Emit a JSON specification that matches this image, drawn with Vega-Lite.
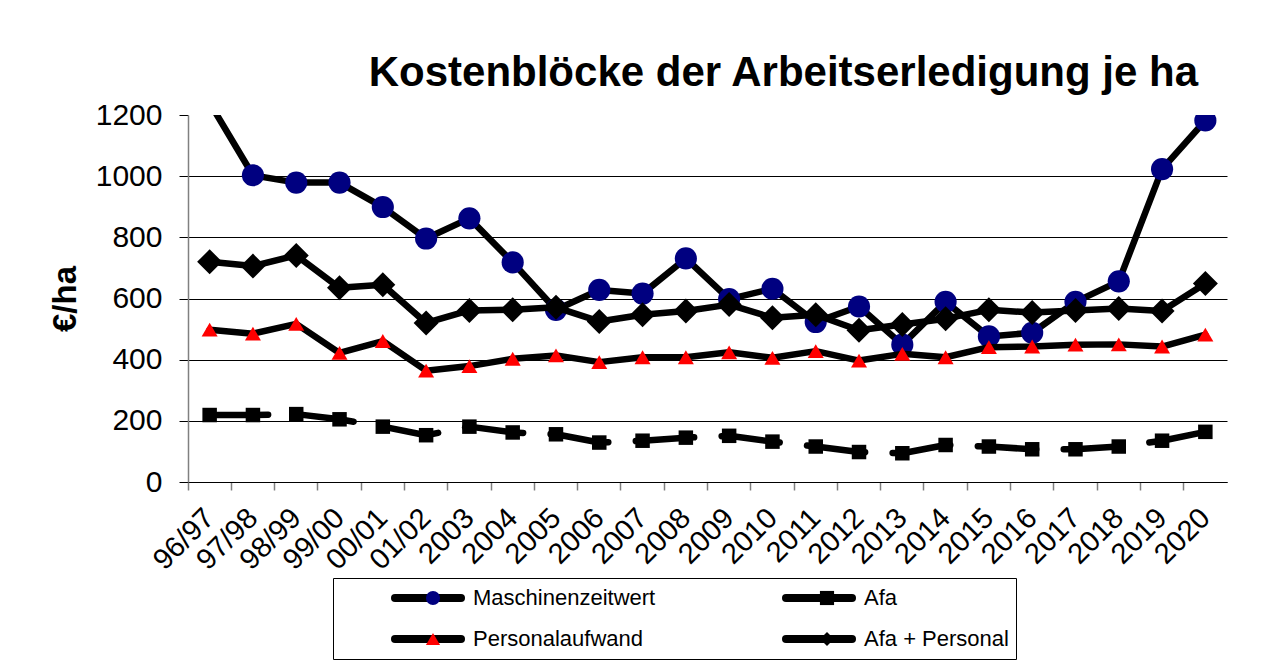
{
  "$schema": "https://vega.github.io/schema/vega-lite/v6.json",
  "width": 1039,
  "height": 367,
  "autosize": {"type": "none"},
  "padding": {"left": 188, "top": 115, "right": 50, "bottom": 186},
  "background": "white",
  "config": {"view": {"stroke": null}, "font": "Liberation Sans"},
  "title": {"text": "Kostenblöcke der Arbeitserledigung je ha", "font": "Liberation Sans", "fontSize": 42, "fontWeight": "bold", "anchor": "end", "frame": "group", "dx": -29, "offset": 5, "color": "black"},
  "data": {"values": [
    {"jahr": "96/97", "serie": "Maschinenzeitwert", "wert": 1240},
    {"jahr": "97/98", "serie": "Maschinenzeitwert", "wert": 1003},
    {"jahr": "98/99", "serie": "Maschinenzeitwert", "wert": 979},
    {"jahr": "99/00", "serie": "Maschinenzeitwert", "wert": 979},
    {"jahr": "00/01", "serie": "Maschinenzeitwert", "wert": 899},
    {"jahr": "01/02", "serie": "Maschinenzeitwert", "wert": 796},
    {"jahr": "2003", "serie": "Maschinenzeitwert", "wert": 862},
    {"jahr": "2004", "serie": "Maschinenzeitwert", "wert": 718},
    {"jahr": "2005", "serie": "Maschinenzeitwert", "wert": 563},
    {"jahr": "2006", "serie": "Maschinenzeitwert", "wert": 628},
    {"jahr": "2007", "serie": "Maschinenzeitwert", "wert": 616},
    {"jahr": "2008", "serie": "Maschinenzeitwert", "wert": 731},
    {"jahr": "2009", "serie": "Maschinenzeitwert", "wert": 598},
    {"jahr": "2010", "serie": "Maschinenzeitwert", "wert": 632},
    {"jahr": "2011", "serie": "Maschinenzeitwert", "wert": 523},
    {"jahr": "2012", "serie": "Maschinenzeitwert", "wert": 574},
    {"jahr": "2013", "serie": "Maschinenzeitwert", "wert": 449},
    {"jahr": "2014", "serie": "Maschinenzeitwert", "wert": 589},
    {"jahr": "2015", "serie": "Maschinenzeitwert", "wert": 476},
    {"jahr": "2016", "serie": "Maschinenzeitwert", "wert": 488},
    {"jahr": "2017", "serie": "Maschinenzeitwert", "wert": 589},
    {"jahr": "2018", "serie": "Maschinenzeitwert", "wert": 656},
    {"jahr": "2019", "serie": "Maschinenzeitwert", "wert": 1023},
    {"jahr": "2020", "serie": "Maschinenzeitwert", "wert": 1182},
    {"jahr": "96/97", "serie": "Afa", "wert": 219},
    {"jahr": "97/98", "serie": "Afa", "wert": 219},
    {"jahr": "98/99", "serie": "Afa", "wert": 222},
    {"jahr": "99/00", "serie": "Afa", "wert": 205},
    {"jahr": "00/01", "serie": "Afa", "wert": 181},
    {"jahr": "01/02", "serie": "Afa", "wert": 153},
    {"jahr": "2003", "serie": "Afa", "wert": 181},
    {"jahr": "2004", "serie": "Afa", "wert": 162},
    {"jahr": "2005", "serie": "Afa", "wert": 156},
    {"jahr": "2006", "serie": "Afa", "wert": 129},
    {"jahr": "2007", "serie": "Afa", "wert": 135},
    {"jahr": "2008", "serie": "Afa", "wert": 145},
    {"jahr": "2009", "serie": "Afa", "wert": 151},
    {"jahr": "2010", "serie": "Afa", "wert": 132},
    {"jahr": "2011", "serie": "Afa", "wert": 116},
    {"jahr": "2012", "serie": "Afa", "wert": 98},
    {"jahr": "2013", "serie": "Afa", "wert": 94},
    {"jahr": "2014", "serie": "Afa", "wert": 121},
    {"jahr": "2015", "serie": "Afa", "wert": 116},
    {"jahr": "2016", "serie": "Afa", "wert": 107},
    {"jahr": "2017", "serie": "Afa", "wert": 107},
    {"jahr": "2018", "serie": "Afa", "wert": 116},
    {"jahr": "2019", "serie": "Afa", "wert": 135},
    {"jahr": "2020", "serie": "Afa", "wert": 164},
    {"jahr": "96/97", "serie": "Personalaufwand", "wert": 498},
    {"jahr": "97/98", "serie": "Personalaufwand", "wert": 485},
    {"jahr": "98/99", "serie": "Personalaufwand", "wert": 517},
    {"jahr": "99/00", "serie": "Personalaufwand", "wert": 422},
    {"jahr": "00/01", "serie": "Personalaufwand", "wert": 461},
    {"jahr": "01/02", "serie": "Personalaufwand", "wert": 364},
    {"jahr": "2003", "serie": "Personalaufwand", "wert": 379},
    {"jahr": "2004", "serie": "Personalaufwand", "wert": 403},
    {"jahr": "2005", "serie": "Personalaufwand", "wert": 414},
    {"jahr": "2006", "serie": "Personalaufwand", "wert": 392},
    {"jahr": "2007", "serie": "Personalaufwand", "wert": 408},
    {"jahr": "2008", "serie": "Personalaufwand", "wert": 408},
    {"jahr": "2009", "serie": "Personalaufwand", "wert": 424},
    {"jahr": "2010", "serie": "Personalaufwand", "wert": 406},
    {"jahr": "2011", "serie": "Personalaufwand", "wert": 428},
    {"jahr": "2012", "serie": "Personalaufwand", "wert": 397},
    {"jahr": "2013", "serie": "Personalaufwand", "wert": 419},
    {"jahr": "2014", "serie": "Personalaufwand", "wert": 408},
    {"jahr": "2015", "serie": "Personalaufwand", "wert": 441},
    {"jahr": "2016", "serie": "Personalaufwand", "wert": 443},
    {"jahr": "2017", "serie": "Personalaufwand", "wert": 449},
    {"jahr": "2018", "serie": "Personalaufwand", "wert": 450},
    {"jahr": "2019", "serie": "Personalaufwand", "wert": 443},
    {"jahr": "2020", "serie": "Personalaufwand", "wert": 482},
    {"jahr": "96/97", "serie": "Afa + Personal", "wert": 720},
    {"jahr": "97/98", "serie": "Afa + Personal", "wert": 706},
    {"jahr": "98/99", "serie": "Afa + Personal", "wert": 741},
    {"jahr": "99/00", "serie": "Afa + Personal", "wert": 635},
    {"jahr": "00/01", "serie": "Afa + Personal", "wert": 645},
    {"jahr": "01/02", "serie": "Afa + Personal", "wert": 520},
    {"jahr": "2003", "serie": "Afa + Personal", "wert": 561},
    {"jahr": "2004", "serie": "Afa + Personal", "wert": 563},
    {"jahr": "2005", "serie": "Afa + Personal", "wert": 571},
    {"jahr": "2006", "serie": "Afa + Personal", "wert": 525},
    {"jahr": "2007", "serie": "Afa + Personal", "wert": 547},
    {"jahr": "2008", "serie": "Afa + Personal", "wert": 559},
    {"jahr": "2009", "serie": "Afa + Personal", "wert": 580},
    {"jahr": "2010", "serie": "Afa + Personal", "wert": 537},
    {"jahr": "2011", "serie": "Afa + Personal", "wert": 547},
    {"jahr": "2012", "serie": "Afa + Personal", "wert": 496},
    {"jahr": "2013", "serie": "Afa + Personal", "wert": 515},
    {"jahr": "2014", "serie": "Afa + Personal", "wert": 534},
    {"jahr": "2015", "serie": "Afa + Personal", "wert": 563},
    {"jahr": "2016", "serie": "Afa + Personal", "wert": 554},
    {"jahr": "2017", "serie": "Afa + Personal", "wert": 561},
    {"jahr": "2018", "serie": "Afa + Personal", "wert": 567},
    {"jahr": "2019", "serie": "Afa + Personal", "wert": 559},
    {"jahr": "2020", "serie": "Afa + Personal", "wert": 649}
  ]},
  "encoding": {
    "x": {"field": "jahr", "type": "ordinal", "sort": null,
      "scale": {"type": "band", "paddingInner": 0, "paddingOuter": 0},
      "axis": {"title": null, "bandPosition": 0, "labelAngle": -45, "labelFont": "Liberation Sans", "labelFontSize": 29, "labelColor": "black", "labelAlign": "right", "labelBaseline": "middle", "labelPadding": 23, "tickSize": 8, "tickColor": "#808080", "tickWidth": 1.5, "domainColor": "black", "domainWidth": 1, "grid": false, "labelOverlap": false, "labelLimit": 200}},
    "y": {"field": "wert", "type": "quantitative",
      "scale": {"domain": [0, 1200], "nice": false},
      "axis": {"title": "€/ha", "titleFont": "Liberation Sans", "titleFontSize": 33, "titleFontWeight": "bold", "titleColor": "black", "titlePadding": 13, "values": [0, 200, 400, 600, 800, 1000, 1200], "format": "d", "labelFont": "Liberation Sans", "labelFontSize": 30, "labelColor": "black", "labelPadding": 17, "tickSize": 9, "tickColor": "black", "domainColor": "#808080", "domainWidth": 1.5, "grid": true, "gridColor": "black", "gridWidth": 1, "gridOpacity": {"condition": {"test": "datum.value >= 1200", "value": 0}, "value": 1}}}
  },
  "layer": [
    {"transform": [{"filter": "datum.serie === 'Maschinenzeitwert'"}],
     "mark": {"type": "line", "strokeWidth": 6.5, "strokeJoin": "round", "strokeCap": "round", "clip": true},
     "encoding": {"color": {"field": "serie", "type": "nominal", "sort": ["Maschinenzeitwert", "Afa", "Personalaufwand", "Afa + Personal"], "scale": {"range": ["black", "black", "black", "black"]},
       "legend": {"title": "\u00a0", "titleOrient": "left", "titleFontSize": 1, "titlePadding": 51, "orient": "none", "direction": "horizontal", "legendX": 145, "legendY": 463, "columns": 2, "columnPadding": 126, "rowPadding": 15, "gridAlign": "all", "clipHeight": 26, "padding": 7, "strokeColor": "black", "symbolType": "stroke", "symbolSize": 4356, "symbolStrokeWidth": 8, "symbolStrokeColor": "black", "labelFont": "Liberation Sans", "labelFontSize": 22, "labelColor": "black", "labelOffset": 8, "labelLimit": 500,
         "encode": {"symbols": {"update": {"strokeCap": {"value": "round"}, "strokeDash": {"value": []}}}}}}}},
    {"transform": [{"filter": "datum.serie === 'Maschinenzeitwert'"}],
     "mark": {"type": "point", "filled": true, "opacity": 1, "size": 490, "strokeWidth": 0, "clip": true},
     "encoding": {
       "fill": {"field": "serie", "type": "nominal", "scale": {"domain": ["Maschinenzeitwert", "Afa", "Personalaufwand", "Afa + Personal"], "range": ["#000080", "#000000", "#FF0000", "#000000"]},
         "legend": {"title": null, "orient": "none", "direction": "horizontal", "legendX": 234, "legendY": 470, "columns": 2, "columnPadding": 308, "rowPadding": 15, "clipHeight": 26, "padding": 0, "symbolSize": 200, "symbolStrokeWidth": 0, "labelFont": "Liberation Sans", "labelFontSize": 22, "labelOffset": 64, "labelExpr": "''", "labelLimit": 500, "zindex": 1}},
       "shape": {"field": "serie", "type": "nominal", "scale": {"domain": ["Maschinenzeitwert", "Afa", "Personalaufwand", "Afa + Personal"], "range": ["circle", "square", "triangle-up", "diamond"]}}}},
    {"transform": [{"filter": "datum.serie === 'Afa'"}],
     "mark": {"type": "line", "strokeWidth": 6.5, "strokeJoin": "round", "strokeCap": "round", "strokeDash": [58.5, 27.5], "clip": true},
     "encoding": {"color": {"field": "serie", "type": "nominal", "sort": ["Maschinenzeitwert", "Afa", "Personalaufwand", "Afa + Personal"]}}},
    {"transform": [{"filter": "datum.serie === 'Afa'"}],
     "mark": {"type": "point", "filled": true, "opacity": 1, "size": 210, "strokeWidth": 0, "clip": true},
     "encoding": {"fill": {"field": "serie", "type": "nominal"}, "shape": {"field": "serie", "type": "nominal"}}},
    {"transform": [{"filter": "datum.serie === 'Personalaufwand'"}],
     "mark": {"type": "line", "strokeWidth": 6.5, "strokeJoin": "round", "strokeCap": "round", "clip": true},
     "encoding": {"color": {"field": "serie", "type": "nominal", "sort": ["Maschinenzeitwert", "Afa", "Personalaufwand", "Afa + Personal"]}}},
    {"transform": [{"filter": "datum.serie === 'Personalaufwand'"}],
     "mark": {"type": "point", "filled": true, "opacity": 1, "size": 256, "strokeWidth": 0, "clip": true},
     "encoding": {"fill": {"field": "serie", "type": "nominal"}, "shape": {"field": "serie", "type": "nominal"}}},
    {"transform": [{"filter": "datum.serie === 'Afa + Personal'"}],
     "mark": {"type": "line", "strokeWidth": 6.5, "strokeJoin": "round", "strokeCap": "round", "clip": true},
     "encoding": {"color": {"field": "serie", "type": "nominal", "sort": ["Maschinenzeitwert", "Afa", "Personalaufwand", "Afa + Personal"]}}},
    {"transform": [{"filter": "datum.serie === 'Afa + Personal'"}],
     "mark": {"type": "point", "filled": true, "opacity": 1, "size": 625, "strokeWidth": 0, "clip": true},
     "encoding": {"fill": {"field": "serie", "type": "nominal"}, "shape": {"field": "serie", "type": "nominal"}}}
  ]
}
